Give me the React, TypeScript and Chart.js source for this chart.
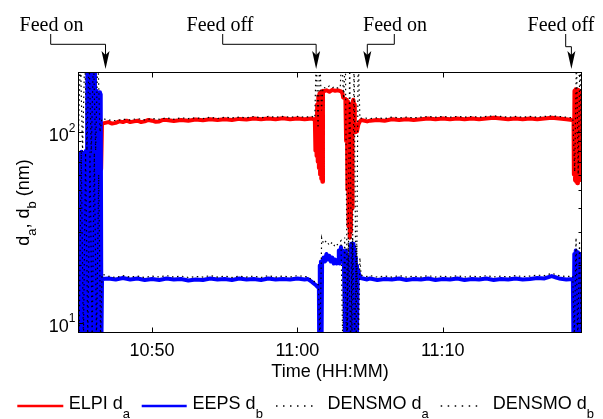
import React, { useEffect, useRef } from 'react';
import { Chart, registerables } from 'chart.js';

Chart.register(...registerables);

// time = minutes after 10:00
const xTickValues = [50, 60, 70];
const xTickLabels = ['10:50', '11:00', '11:10'];
const yTickValues = [10, 100];
const yTickExps = ['1', '2'];
const yMinorTicks = [9, 20, 30, 40, 50, 60, 70, 80, 90, 200];

const eventTimes = [46.8, 61.29, 64.81, 78.85];
const eventLabels = ['Feed on', 'Feed off', 'Feed on', 'Feed off'];

const legendNames = ['ELPI d', 'EEPS d', 'DENSMO d', 'DENSMO d'];
const legendSubs = ['a', 'b', 'a', 'b'];

const elpiDa: [number, number][] = [
  [46.30,112],[46.34,66],[46.38,110],[46.42,62],[46.46,109],[46.50,64],[46.56,111],
  [47.0,113],[47.25,111],[47.5,112],[47.75,114],[48.0,113],[48.25,115],[48.5,113],[48.75,114],
  [49.0,115],[49.25,113],[49.5,114],[49.75,116],[50.0,115],[50.25,113.5],[50.5,114],[50.75,116],
  [51.0,116],[51.5,114.5],[52.0,116],[52.5,115],[53.0,116.5],[53.5,115.5],[54.0,117],[54.5,116],
  [55.0,117],[55.5,116],[56.0,117.5],[56.5,116.5],[57.0,118],[57.5,117],[58.0,118],[58.5,117],
  [59.0,118.5],[59.5,117],[60.0,118],[60.5,117],[61.0,118],[61.2,116],
  [61.24,80],[61.28,118],[61.32,75],[61.36,140],[61.40,70],[61.44,155],[61.48,65],[61.52,160],
  [61.56,60],[61.60,162],[61.64,57],[61.68,164],[61.72,55],[61.76,165],[61.8,164],[62.0,166],
  [62.2,163],[62.4,167],[62.6,165],[62.8,166],[63.0,164],[63.1,160],[63.15,152],[63.3,150],
  [63.35,90],[63.4,148],[63.44,50],[63.48,145],[63.52,32],[63.56,140],[63.6,28],[63.64,135],
  [63.68,30],[63.72,140],[63.76,40],[63.8,145],[63.85,148],[63.9,140],[63.95,110],[64.0,100],
  [64.05,105],[64.1,101],[64.2,110],[64.3,114],[64.4,116],
  [64.8,114],[65.0,115],[65.5,116],[66.0,115],[66.5,117],[67.0,116],[67.5,117],[68.0,116],
  [68.5,117],[69.0,118],[69.5,117],[70.0,118],[70.5,117],[71.0,118],[71.5,117],[72.0,118],
  [72.5,117],[73.0,118],[73.5,119],[74.0,118],[74.5,117],[75.0,118],[75.5,117],[76.0,118],
  [76.5,117],[77.0,118],[77.5,119],[78.0,118],[78.5,117],[78.9,116],[79.0,115],
  [79.02,60],[79.06,165],[79.1,56],[79.14,168],[79.18,55],[79.22,165],[79.26,54],[79.30,167],
  [79.34,58],[79.38,165],[79.42,56],[79.46,160],[79.5,62],[79.55,158],
];

const eepsDb: [number, number][] = [
  [44.90,8],[44.95,78],[45.00,7],[45.05,76],[45.10,8],[45.15,79],[45.20,7],[45.25,77],[45.30,8],
  [45.35,78],[45.40,7],[45.45,80],[45.50,8],[45.55,260],[45.60,7],[45.65,255],[45.70,8],[45.74,260],
  [45.76,6],[45.84,6],[45.87,260],[45.92,7],[45.97,255],[46.02,8],[46.07,260],[46.12,7],[46.17,165],
  [46.22,8],[46.27,160],[46.32,7],[46.37,162],[46.42,8],[46.47,158],[46.52,8],[46.56,17],
  [47.0,17.1],[47.5,16.9],[48.0,17.2],[48.5,16.9],[49.0,17.1],[49.5,16.8],[50.0,17.0],[50.5,16.8],
  [51.0,17.1],[51.5,16.9],[52.0,17.0],[52.5,16.7],[53.0,16.9],[53.5,16.8],[54.0,17.1],[54.5,16.9],
  [55.0,17.0],[55.5,16.8],[56.0,17.1],[56.5,16.9],[57.0,17.0],[57.5,16.8],[58.0,17.1],[58.5,16.9],
  [59.0,17.0],[59.5,16.9],[60.0,17.1],[60.5,16.9],[60.7,17.0],
  [61.0,16.4],[61.3,15.7],[61.48,15.2],
  [61.5,7],[61.54,20],[61.58,7],[61.62,21],[61.66,7],[61.7,20.5],
  [61.8,22],[61.9,21],[62.0,23],[62.1,21.5],[62.2,22.5],[62.3,21],[62.4,22],[62.5,20.5],[62.6,21.5],
  [62.7,20.5],[62.8,21],[62.85,24],[62.9,20.5],[63.0,25],[63.05,21],[63.1,24],[63.2,21],
  [63.3,7],[63.34,24],[63.38,7],[63.42,22],[63.46,7],[63.5,21],[63.54,7],[63.58,20],[63.62,7],
  [63.66,24],[63.7,26],[63.74,7],[63.78,25],[63.82,7],[63.86,26],[63.9,24],[63.94,7],[63.98,22],
  [64.02,7],[64.06,20],[64.1,8],[64.15,19],[64.25,18],[64.35,17.2],
  [64.8,16.9],[65.0,17.1],[65.5,16.8],[66.0,17.0],[66.5,16.9],[67.0,17.1],[67.5,16.8],[68.0,17.0],
  [68.5,16.9],[69.0,17.1],[69.5,16.8],[70.0,17.0],[70.5,16.9],[71.0,17.1],[71.5,16.8],[72.0,17.0],
  [72.5,16.9],[73.0,17.1],[73.5,16.8],[74.0,17.0],[74.5,16.9],[75.0,17.1],[75.5,16.9],[76.0,17.0],
  [76.5,17.2],[77.0,17.1],[77.5,17.6],[77.8,17.3],[78.0,17.1],[78.5,16.9],[78.95,17.0],
  [79.0,7],[79.05,23],[79.1,7],[79.15,24],[79.2,7],[79.25,23.5],[79.3,7],[79.35,22],[79.4,7],
  [79.45,23],[79.5,7],[79.55,23],
];

const densmoDa: [number, number][] = [
  [44.92,80],[45.07,260],[45.22,79],[45.37,260],[45.52,80],[45.67,260],[45.82,78],[45.97,260],
  [46.12,80],[46.27,260],[46.42,100],[46.55,118],
  [47.0,116],[47.5,115],[48.0,117],[48.5,116],[49.0,118],[49.5,116],[50.0,118],[50.5,117],
  [51.0,119],[51.5,117],[52.0,119],[52.5,118],[53.0,119],[53.5,118],[54.0,120],[54.5,118],
  [55.0,120],[55.5,119],[56.0,120],[56.5,119],[57.0,121],[57.5,119],[58.0,121],[58.5,120],
  [59.0,121],[59.5,120],[60.0,121],[60.5,120],[61.0,121],[61.2,119],
  [61.3,260],[61.42,105],[61.54,260],[61.66,130],[61.76,172],[62.0,170],[62.2,175],[62.4,171],
  [62.6,174],[62.8,170],[62.95,172],[63.05,260],[63.18,150],[63.3,260],[63.45,8],[63.6,260],
  [63.75,8],[63.9,260],[64.05,8],[64.18,260],[64.3,118],
  [64.5,119],[65.0,118],[65.5,119],[66.0,118],[66.5,120],[67.0,119],[67.5,120],[68.0,119],
  [68.5,120],[69.0,121],[69.5,120],[70.0,121],[70.5,120],[71.0,121],[71.5,120],[72.0,121],
  [72.5,120],[73.0,121],[73.5,122],[74.0,121],[74.5,120],[75.0,121],[75.5,120],[76.0,121],
  [76.5,120],[77.0,121],[77.5,122],[78.0,121],[78.5,120],[78.95,119],
  [79.08,62],[79.2,260],[79.32,60],[79.44,260],[79.56,63],
];

const densmoDb: [number, number][] = [
  [44.98,8],[45.13,79],[45.28,8],[45.43,78],[45.58,8],[45.73,79],[45.88,8],[46.03,78],
  [46.18,8],[46.33,60],[46.46,8],[46.56,18],
  [47.0,17.6],[47.5,17.3],[48.0,17.7],[48.5,17.4],[49.0,17.6],[49.5,17.3],[50.0,17.6],[50.5,17.4],
  [51.0,17.7],[51.5,17.4],[52.0,17.6],[52.5,17.3],[53.0,17.5],[53.5,17.4],[54.0,17.7],[54.5,17.4],
  [55.0,17.6],[55.5,17.3],[56.0,17.6],[56.5,17.4],[57.0,17.6],[57.5,17.3],[58.0,17.7],[58.5,17.4],
  [59.0,17.6],[59.5,17.4],[60.0,17.7],[60.5,17.5],[60.7,17.5],
  [61.0,16.8],[61.3,16.2],[61.45,15.8],[61.55,8],[61.67,28],[61.8,26],[62.0,27],[62.2,25.5],
  [62.4,26.5],[62.6,25],[62.8,26],[63.0,27],[63.12,8],[63.25,28],[63.38,8],[63.52,27],[63.66,8],
  [63.8,28],[63.94,8],[64.08,26],[64.2,8],[64.3,22],[64.38,17.8],
  [64.8,17.5],[65.0,17.7],[65.5,17.4],[66.0,17.6],[66.5,17.4],[67.0,17.7],[67.5,17.4],[68.0,17.6],
  [68.5,17.4],[69.0,17.7],[69.5,17.4],[70.0,17.6],[70.5,17.4],[71.0,17.7],[71.5,17.4],[72.0,17.6],
  [72.5,17.4],[73.0,17.7],[73.5,17.4],[74.0,17.6],[74.5,17.4],[75.0,17.7],[75.5,17.5],[76.0,17.6],
  [76.5,17.8],[77.0,17.7],[77.5,18.2],[77.8,17.9],[78.0,17.7],[78.5,17.5],[78.95,17.6],
  [79.05,8],[79.17,28],[79.29,8],[79.41,27],[79.53,8],
];

const SANS = '"Liberation Sans", Arial, sans-serif';
const SERIF = '"Liberation Serif", "Times New Roman", serif';

// layout constants for annotation callouts (pixels)
const calloutText = [51.5, 220, 395, 561];
const calloutLineX = [50.7, 222.7, 394.3, 565.7];
const calloutElbowY = [44.3, 44.3, 44.3, 46.7];

const overlay = {
  id: 'overlay',
  afterDatasetsDraw(chart: any) {
    const { ctx, chartArea: a, scales } = chart;
    const xs = scales.x;
    const ys = scales.y;
    ctx.save();
    ctx.strokeStyle = '#000';
    ctx.lineWidth = 1;
    const L = Math.round(a.left) + 0.5;
    const R = Math.round(a.right) - 0.5;
    const T = Math.round(a.top) + 0.5;
    const B = Math.round(a.bottom) - 0.5;
    ctx.strokeRect(L, T, R - L, B - T);
    const seg = (x1: number, y1: number, x2: number, y2: number) => {
      ctx.beginPath(); ctx.moveTo(x1, y1); ctx.lineTo(x2, y2); ctx.stroke();
    };
    for (const v of xTickValues) {
      const px = Math.round(xs.getPixelForValue(v)) + 0.5;
      seg(px, B, px, B - 5);
      seg(px, T, px, T + 5);
    }
    for (const v of yTickValues) {
      const py = Math.round(ys.getPixelForValue(v)) + 0.5;
      seg(L, py, L + 5, py);
      seg(R, py, R - 5, py);
    }
    for (const v of yMinorTicks) {
      const py = Math.round(ys.getPixelForValue(v)) + 0.5;
      seg(L, py, L + 3, py);
      seg(R, py, R - 3, py);
    }

    // tick labels
    ctx.fillStyle = '#000';
    ctx.textBaseline = 'alphabetic';
    ctx.font = `18px ${SANS}`;
    ctx.textAlign = 'center';
    xTickValues.forEach((v, i) => {
      ctx.fillText(xTickLabels[i], xs.getPixelForValue(v), 355.7);
    });
    yTickValues.forEach((v, i) => {
      const py = ys.getPixelForValue(v);
      ctx.font = `12px ${SANS}`;
      ctx.textAlign = 'right';
      ctx.fillText(yTickExps[i], 75.5, py - 0.5);
      const sw = ctx.measureText(yTickExps[i]).width;
      ctx.font = `18px ${SANS}`;
      ctx.fillText('10', 75.5 - sw, py + 9.2);
    });

    // x title
    ctx.font = `18px ${SANS}`;
    ctx.textAlign = 'center';
    ctx.fillText('Time (HH:MM)', (a.left + a.right) / 2, 377);

    // y title, rotated with subscripts
    const parts: [string, boolean][] = [['d', false], ['a', true], [', d', false], ['b', true], [' (nm)', false]];
    const widthOf = (p: [string, boolean]) => {
      ctx.font = p[1] ? `13px ${SANS}` : `18px ${SANS}`;
      return ctx.measureText(p[0]).width;
    };
    const total = parts.reduce((s, p) => s + widthOf(p), 0);
    ctx.save();
    ctx.translate(28.5, (a.top + a.bottom) / 2);
    ctx.rotate(-Math.PI / 2);
    ctx.textAlign = 'left';
    let cx = -total / 2;
    for (const p of parts) {
      const w = widthOf(p);
      ctx.fillText(p[0], cx, p[1] ? 7.5 : 0);
      cx += w;
    }
    ctx.restore();

    // callouts
    ctx.font = `20px ${SERIF}`;
    ctx.textAlign = 'center';
    ctx.lineWidth = 1;
    eventTimes.forEach((t, i) => {
      const tip = xs.getPixelForValue(t);
      ctx.fillText(eventLabels[i], calloutText[i], 30.7);
      const lx = calloutLineX[i];
      const ey = calloutElbowY[i];
      ctx.beginPath();
      ctx.moveTo(lx, 34);
      ctx.lineTo(lx, ey);
      ctx.lineTo(tip, ey);
      ctx.lineTo(tip, 56);
      ctx.stroke();
      ctx.beginPath();
      ctx.moveTo(tip, 69);
      ctx.lineTo(tip - 4, 51);
      ctx.lineTo(tip, 55);
      ctx.lineTo(tip + 4, 51);
      ctx.closePath();
      ctx.fill();
    });

    // legend
    const legY = 406;
    const lineStarts = [17.3, 141.7, 276, 440.7];
    const lineEnds = [63.3, 186.7, 318, 482];
    const textStarts = [68.7, 192.6, 327.6, 492.7];
    const colors = ['#ff0000', '#0000ff', '#000000', '#000000'];
    legendNames.forEach((name, i) => {
      ctx.save();
      ctx.strokeStyle = colors[i];
      if (i >= 2) {
        ctx.lineWidth = 1.5;
        ctx.setLineDash([1.5, 5.5]);
      } else {
        ctx.lineWidth = 2.7;
      }
      seg(lineStarts[i], legY, lineEnds[i], legY);
      ctx.restore();
      ctx.textAlign = 'left';
      ctx.font = `18px ${SANS}`;
      ctx.fillText(name, textStarts[i], 409.3);
      const w = ctx.measureText(name).width;
      ctx.font = `13px ${SANS}`;
      ctx.fillText(legendSubs[i], textStarts[i] + w, 418);
    });
    ctx.restore();
  },
};

export default function App() {
  const ref = useRef<HTMLCanvasElement>(null);
  useEffect(() => {
    const toXY = (arr: [number, number][]) => arr.map(([x, y]) => ({ x, y }));
    const chart = new Chart(ref.current as HTMLCanvasElement, {
      type: 'line',
      data: {
        datasets: [
          {
            label: 'ELPI da', data: toXY(elpiDa) as any, borderColor: '#ff0000', borderWidth: 4,
            pointRadius: 0, clip: 0 as any, order: 4, borderJoinStyle: 'round', tension: 0,
          },
          {
            label: 'EEPS db', data: toXY(eepsDb) as any, borderColor: '#0000ff', borderWidth: 4,
            pointRadius: 0, clip: 0 as any, order: 3, borderJoinStyle: 'round', tension: 0,
          },
          {
            label: 'DENSMO da', data: toXY(densmoDa) as any, borderColor: '#000000', borderWidth: 1.2,
            borderDash: [1.5, 3.5], pointRadius: 0, clip: 0 as any, order: 2, tension: 0,
          },
          {
            label: 'DENSMO db', data: toXY(densmoDb) as any, borderColor: '#000000', borderWidth: 1.2,
            borderDash: [1.5, 3.5], pointRadius: 0, clip: 0 as any, order: 1, tension: 0,
          },
        ],
      },
      options: {
        animation: false,
        responsive: false,
        maintainAspectRatio: false,
        layout: { padding: { left: 78, top: 72, right: 21, bottom: 86 } },
        plugins: { legend: { display: false }, tooltip: { enabled: false } },
        scales: {
          x: { type: 'linear', min: 44.907, max: 79.58, display: false },
          y: { type: 'logarithmic', min: 8.85, max: 207, display: false },
        },
      },
      plugins: [overlay],
    });
    return () => chart.destroy();
  }, []);
  return (
    <div style={{ position: 'absolute', left: 0, top: 0, width: 603, height: 419, background: '#fff' }}>
      <canvas ref={ref} width={603} height={419} style={{ display: 'block', width: 603, height: 419 }} />
    </div>
  );
}
